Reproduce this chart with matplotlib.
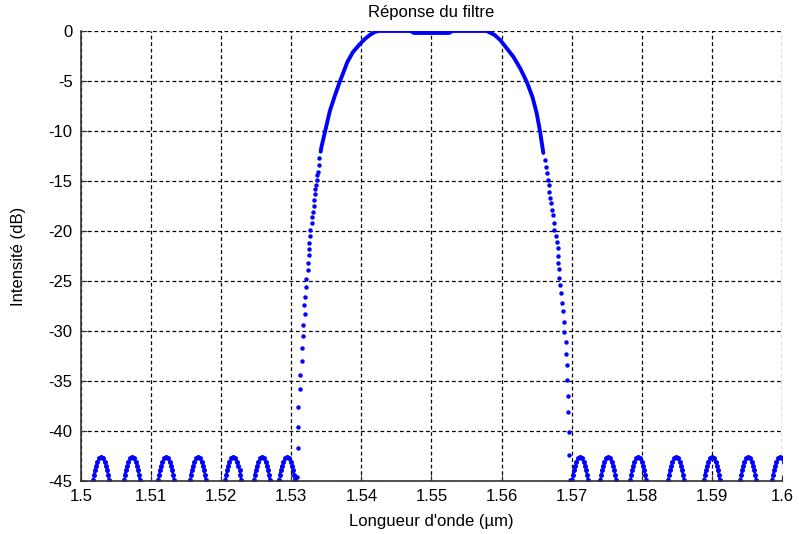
import numpy as np
from matplotlib import pyplot as plt

# bande passante (trait continu), longueur d'onde en um et intensite en dB
bande_lambda = [1.53419, 1.5343, 1.5348, 1.5355, 1.5362, 1.5369, 1.5374, 1.5380,
                1.5388, 1.5398, 1.5405, 1.5412, 1.5419, 1.5425, 1.5470, 1.5475,
                1.5525, 1.5530, 1.5579, 1.5590, 1.5598, 1.5607, 1.5617, 1.5627,
                1.5636, 1.5644, 1.5650, 1.5655, 1.56595]
bande_db = [-12.07, -11.6, -10.1, -8.0, -6.5, -5.1, -4.2, -3.1,
            -2.1, -1.3, -0.8, -0.4, -0.1, 0.0, 0.0, -0.2,
            -0.2, 0.0, 0.0, -0.4, -0.9, -1.7, -2.6, -3.8,
            -5.1, -6.6, -8.2, -10.1, -12.2]

# flanc gauche (points separes)
flanc_g_lambda = [1.53400, 1.53400, 1.53386, 1.53371, 1.53362, 1.53352, 1.53338, 1.53338,
                  1.53324, 1.53324, 1.53305, 1.53291, 1.53291, 1.53267, 1.53267, 1.53252,
                  1.53252, 1.53252, 1.53234, 1.53234, 1.53210, 1.53210, 1.53195, 1.53186,
                  1.53195, 1.53172, 1.53172, 1.53148, 1.53148, 1.53124, 1.53124, 1.53100,
                  1.53100, 1.53100, 1.53077]
flanc_g_db = [-12.73, -13.4, -14.07, -14.4, -14.9, -15.4, -15.8, -16.3,
              -16.9, -17.5, -18.1, -18.6, -19.2, -19.9, -20.5, -21.2,
              -21.8, -22.4, -23.2, -23.9, -24.8, -25.6, -26.6, -27.4,
              -28.3, -29.4, -30.5, -31.7, -33.0, -34.4, -35.8, -37.6,
              -39.6, -41.7, -44.6]

# flanc droit (points separes)
flanc_d_lambda = [1.56619, 1.56633, 1.56652, 1.56667, 1.56676, 1.56676, 1.56690, 1.56705,
                  1.56714, 1.56738, 1.56748, 1.56752, 1.56772, 1.56786, 1.56800, 1.56800,
                  1.56809, 1.56819, 1.56819, 1.56833, 1.56847, 1.56866, 1.56881, 1.56890,
                  1.56895, 1.56914, 1.56919, 1.56929, 1.56938, 1.56943, 1.56952, 1.56962,
                  1.56962, 1.56976]
flanc_d_db = [-12.9, -13.6, -14.2, -14.9, -15.4, -16.1, -16.7, -17.2,
              -17.9, -18.4, -19.2, -19.9, -20.5, -21.1, -21.7, -22.5,
              -23.2, -23.8, -24.7, -25.4, -26.2, -27.2, -28.0, -29.1,
              -30.1, -31.1, -32.3, -33.4, -34.9, -36.5, -38.1, -40.1,
              -42.4, -44.9]

lobes_centres = [1.50285, 1.50723, 1.51213, 1.51665, 1.52173, 1.52578, 1.52934,
                 1.57118, 1.57522, 1.57950, 1.58488, 1.58997, 1.59519, 1.59971]
lobe_dx = [-0.00114, -0.00100, -0.00088, -0.00072, -0.00055, -0.00030, 0.0,
           0.00030, 0.00055, 0.00072, 0.00088, 0.00100, 0.00114]
lobe_db = [-44.9, -44.4, -43.9, -43.5, -43.1, -42.75, -42.6,
           -42.75, -43.1, -43.5, -43.9, -44.4, -44.9]


def main():
    plt.rcParams['font.family'] = ['Liberation Sans', 'DejaVu Sans']
    plt.rcParams['axes.unicode_minus'] = False

    fig = plt.figure(figsize=(7.99, 5.34), dpi=100)
    ax = fig.add_axes([0.1014, 0.0993, 0.8773, 0.8427])

    bleu = '#0000ff'
    ax.plot(bande_lambda, bande_db, '-', color=bleu, lw=2.8,
            solid_capstyle='round', solid_joinstyle='round')
    ax.plot(flanc_g_lambda, flanc_g_db, 'o', color=bleu, ms=3.2, mew=0)
    ax.plot(flanc_d_lambda, flanc_d_db, 'o', color=bleu, ms=3.2, mew=0)

    for c in lobes_centres:
        lx = np.array(lobe_dx) + c
        ax.plot(lx, lobe_db, 'o:', color=bleu, ms=3.6, mew=0, lw=1.6)

    ax.set_xlim(1.5, 1.6)
    ax.set_ylim(-45, 0)
    ax.set_xticks(np.arange(1.5, 1.6001, 0.01))
    ax.set_xticklabels(['1.5', '1.51', '1.52', '1.53', '1.54', '1.55',
                        '1.56', '1.57', '1.58', '1.59', '1.6'])
    ax.set_yticks(np.arange(-45, 1, 5))

    # grille en pointilles comme sous matlab
    ax.grid(True, color='black', linestyle=(0, (3, 2.2)), linewidth=0.9)
    ax.set_axisbelow(True)
    ax.spines['top'].set_visible(False)
    ax.spines['right'].set_visible(False)
    for s in ['left', 'bottom']:
        ax.spines[s].set_color('#333333')
        ax.spines[s].set_linewidth(1.2)
    ax.tick_params(direction='in', length=4, labelsize=12, pad=6, colors='#333333',
                   labelcolor='black')

    ax.set_title("Réponse du filtre", fontsize=12, pad=10)
    ax.set_xlabel("Longueur d'onde (µm)", fontsize=12, labelpad=7)
    ax.set_ylabel("Intensité (dB)", fontsize=12, labelpad=16)

    fig.savefig('out.png', dpi=100)
    plt.close(fig)


if __name__ == "__main__":
    main()
